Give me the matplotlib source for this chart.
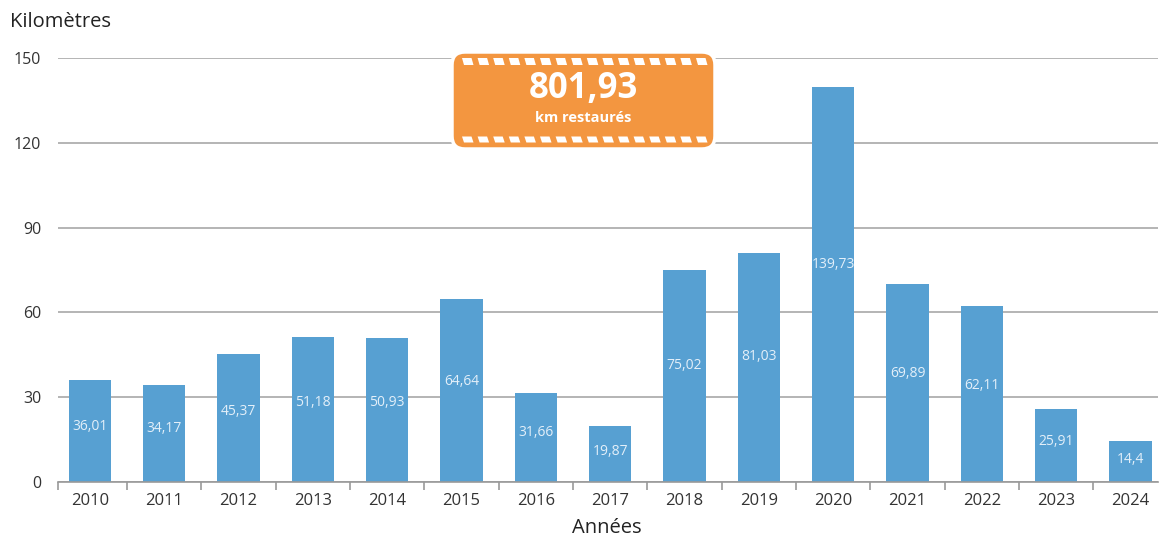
import numpy as np
import matplotlib
matplotlib.use('Agg')
import matplotlib.pyplot as plt
from matplotlib.patches import FancyBboxPatch, Polygon
from matplotlib.transforms import Affine2D

years = ['2010', '2011', '2012', '2013', '2014', '2015', '2016', '2017',
         '2018', '2019', '2020', '2021', '2022', '2023', '2024']
km = [36.01, 34.17, 45.37, 51.18, 50.93, 64.64, 31.66, 19.87,
      75.02, 81.03, 139.73, 69.89, 62.11, 25.91, 14.4]
bar_labels = ['36,01', '34,17', '45,37', '51,18', '50,93', '64,64', '31,66', '19,87',
              '75,02', '81,03', '139,73', '69,89', '62,11', '25,91', '14,4']
yticks = [0, 30, 60, 90, 120, 150]
total_txt = '801,93'
total_sub = 'km restaurés'

plt.rcParams['font.family'] = ['Open Sans', 'DejaVu Sans']

W, H = 1160, 537
fig = plt.figure(figsize=(W / 100, H / 100), dpi=100, facecolor='white')
ax = fig.add_axes([58 / W, 1 - 482 / H, (1158 - 58) / W, (482 - 58) / H])

x = np.arange(len(years))
bars = ax.bar(x, km, width=0.57, color='#57A0D2', zorder=3)
for xi, v, lab in zip(x, km, bar_labels):
    ax.text(xi, v * 0.55, lab, ha='center', va='center', color='#e3eff9',
            fontsize=10, zorder=4)

ax.set_xlim(-0.43, 14.37)
ax.set_ylim(0, 150)
ax.set_yticks(yticks)
ax.set_yticklabels([str(t) for t in yticks], fontsize=11.5, color='#333333')
ax.set_xticks(x)
ax.set_xticklabels(years, fontsize=12, color='#333333')
ax.tick_params(axis='x', which='major', length=0, pad=8)
ax.set_xticks(list(np.arange(0.5, 14, 1.0)) + [-0.43], minor=True)
ax.tick_params(axis='x', which='minor', length=6, color='#999999', width=1.2)
ax.tick_params(axis='y', length=0, pad=12)
ax.grid(axis='y', color='#b4b4b4', linewidth=1.4, zorder=0)
for s in ['top', 'right', 'left']:
    ax.spines[s].set_visible(False)
ax.spines['bottom'].set_color('#999999')
ax.spines['bottom'].set_linewidth(1.2)
ax.spines['bottom'].set_zorder(5)

fig.text(10 / W, 1 - 22 / H, 'Kilomètres', fontsize=14.5, color='#222222',
         ha='left', va='center')
fig.text(607 / W, 1 - 528 / H, 'Années', fontsize=14.5, color='#222222',
         ha='center', va='center')

# orange badge, drawn in image pixel coords (y down)
px = Affine2D().scale(1, -1).translate(0, H)
bx0, bx1, by0, by1 = 452, 715, 52, 149
badge = FancyBboxPatch((bx0, by0), bx1 - bx0, by1 - by0,
                       boxstyle='round,pad=0,rounding_size=13',
                       transform=px, facecolor='#F39640',
                       edgecolor='white', linewidth=2.5, zorder=10)
fig.add_artist(badge)
n_dash = 16
step = 15.6
for row_y, hh in [(61.5, 3.5), (139.5, 3)]:
    for k in range(n_dash):
        x0 = bx0 + 10 + k * step
        pts = [(x0, row_y - hh), (x0 + 9.5, row_y - hh),
               (x0 + 11.5, row_y + hh), (x0 + 2, row_y + hh)]
        fig.add_artist(Polygon(pts, closed=True, transform=px,
                               facecolor='white', edgecolor='none', zorder=11))
fig.text((bx0 + bx1) / 2 / W, 1 - 89 / H, total_txt, fontsize=25,
         fontweight='bold', color='white', ha='center', va='center', zorder=12)
fig.text((bx0 + bx1) / 2 / W, 1 - 118 / H, total_sub, fontsize=10.5,
         fontweight='bold', color='white', ha='center', va='center', zorder=12)

fig.savefig('out.png', dpi=100, facecolor='white')
